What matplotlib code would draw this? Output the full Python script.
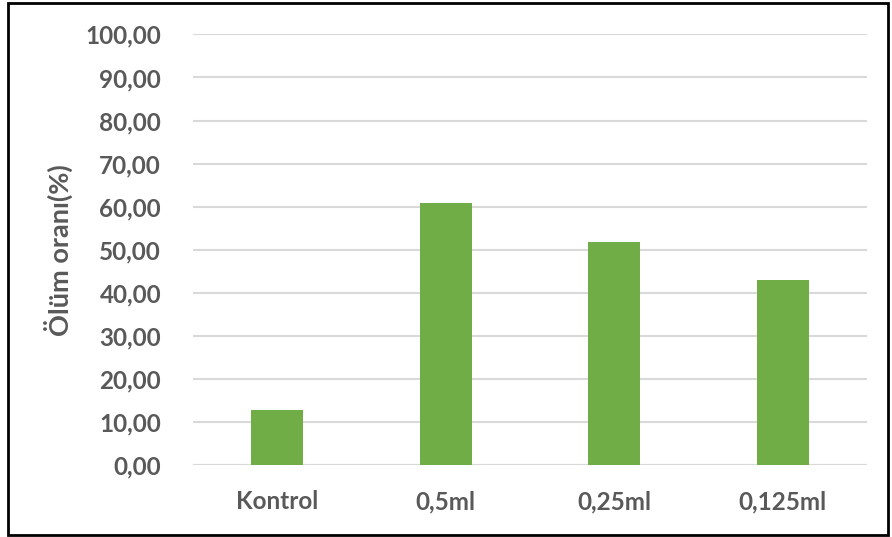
import matplotlib.pyplot as plt
from matplotlib.patches import Rectangle
from matplotlib.ticker import FuncFormatter, MultipleLocator

plt.rcParams['font.family'] = ['Lato', 'DejaVu Sans']

# Ölüm oranları (%)
groups = ['Kontrol', '0,5ml', '0,25ml', '0,125ml']
death_rate = [12.8, 60.8, 51.7, 42.9]

text_gray = '#595959'
bar_green = '#70AD47'
grid_gray = '#D9D9D9'

fig = plt.figure(figsize=(8.92, 5.37), dpi=100)
ax = fig.add_axes([0.2164, 0.134, 0.7556, 0.802])

x = range(len(groups))
ax.bar(x, death_rate, width=0.31, color=bar_green, zorder=3)

ax.set_xlim(-0.5, len(groups) - 0.5)
ax.set_ylim(0, 100)
ax.yaxis.set_major_locator(MultipleLocator(10))
ax.yaxis.set_major_formatter(FuncFormatter(lambda v, _: f'{v:.2f}'.replace('.', ',')))
ax.set_xticks(list(x))
ax.set_xticklabels(groups)

ax.yaxis.grid(True, color=grid_gray, linewidth=1.5, zorder=0)
for s in ax.spines.values():
    s.set_visible(False)
ax.axhline(0, color=grid_gray, linewidth=1.5, zorder=2)

ax.tick_params(axis='both', length=0, labelsize=17.5, labelcolor=text_gray)
ax.tick_params(axis='y', pad=23)
ax.tick_params(axis='x', pad=18)
for lbl in ax.get_xticklabels() + ax.get_yticklabels():
    lbl.set_fontweight('bold')

ax.set_ylabel('Ölüm oranı(%)', fontsize=19.5, fontweight='bold', color=text_gray, labelpad=9)

# çerçeve
fig.patches.append(Rectangle((0.009, 0.004), 0.987, 0.99, transform=fig.transFigure,
                             fill=False, edgecolor='black', linewidth=2))

fig.savefig('out.png', dpi=100)
